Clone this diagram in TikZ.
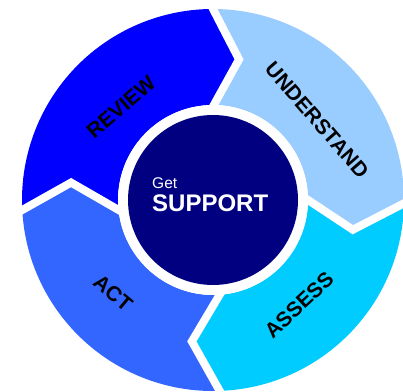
\documentclass[tikz,border=0pt]{standalone}
\usepackage{fontspec}
\setmainfont{Liberation Sans}
\usetikzlibrary{calc}
\definecolor{reviewblue}{HTML}{0000FF}
\definecolor{understandblue}{HTML}{99CCFF}
\definecolor{assessblue}{HTML}{00CCFF}
\definecolor{actblue}{HTML}{3366FF}
\definecolor{corenavy}{HTML}{000080}

\begin{document}
\begin{tikzpicture}[x=1pt,y=1pt,
  gapline/.style={white, line width=8pt, line join=miter},
  stage/.style={font=\bfseries\fontsize{21}{25}\selectfont, text=black, inner sep=0pt},
  coretext/.style={text=white, inner sep=0pt, anchor=base west}]
\useasboundingbox (0,0) rectangle (403,391);
\clip (0,0) rectangle (403,391);
\fill[white] (0,0) rectangle (403,391);

\begin{scope}[shift={(213,191)}]
  % chevron separators: outer end, tip, inner end
  \coordinate (o1) at (90:191);   \coordinate (t1) at (79.5:143);  \coordinate (i1) at (89.5:95);
  \coordinate (o2) at (-1:191);   \coordinate (t2) at (-12:143);   \coordinate (i2) at (0:95);
  \coordinate (o3) at (-88:191);  \coordinate (t3) at (-98.5:143); \coordinate (i3) at (-86:95);
  \coordinate (o4) at (183:191);  \coordinate (t4) at (173:143);   \coordinate (i4) at (186:95);

  % ring segments
  \fill[reviewblue] (o4) arc[start angle=183, end angle=90, radius=191]
    -- (t1) -- (i1) arc[start angle=89.5, end angle=186, radius=95] -- (t4) -- cycle;
  \fill[understandblue] (o1) arc[start angle=90, end angle=-1, radius=191]
    -- (t2) -- (i2) arc[start angle=0, end angle=89.5, radius=95] -- (t1) -- cycle;
  \fill[assessblue] (o2) arc[start angle=-1, end angle=-88, radius=191]
    -- (t3) -- (i3) arc[start angle=-86, end angle=0, radius=95] -- (t2) -- cycle;
  \fill[actblue] (o3) arc[start angle=-88, end angle=-177, radius=191]
    -- (t4) -- (i4) arc[start angle=-174, end angle=-86, radius=95] -- (t3) -- cycle;

  % white gaps between segments
  \foreach \k in {1,2,3,4}{
    \draw[gapline] ($(t\k)!1.3!(o\k)$) -- (t\k) -- ($(t\k)!1.3!(i\k)$);
  }

  % hub
  \fill[white] (0,0) circle[radius=95];
  \fill[corenavy] (0,0) circle[radius=85];
\end{scope}

% stage labels
\node[stage, rotate=41]  (review)     at (121,284) {REVIEW};
\node[stage, rotate=-49] (understand) at (317,271) {UNDERSTAND};
\node[stage, rotate=43]  (assess)     at (299,86)  {ASSESS};
\node[stage, rotate=-40] (act)        at (113,98)  {ACT};

% hub text
\node[coretext, font=\fontsize{15.5}{18}\selectfont] (get) at (152,203) {Get};
\node[coretext, font=\bfseries\fontsize{24}{28}\selectfont] (support) at (152,180) {SUPPORT};
\end{tikzpicture}
\end{document}
